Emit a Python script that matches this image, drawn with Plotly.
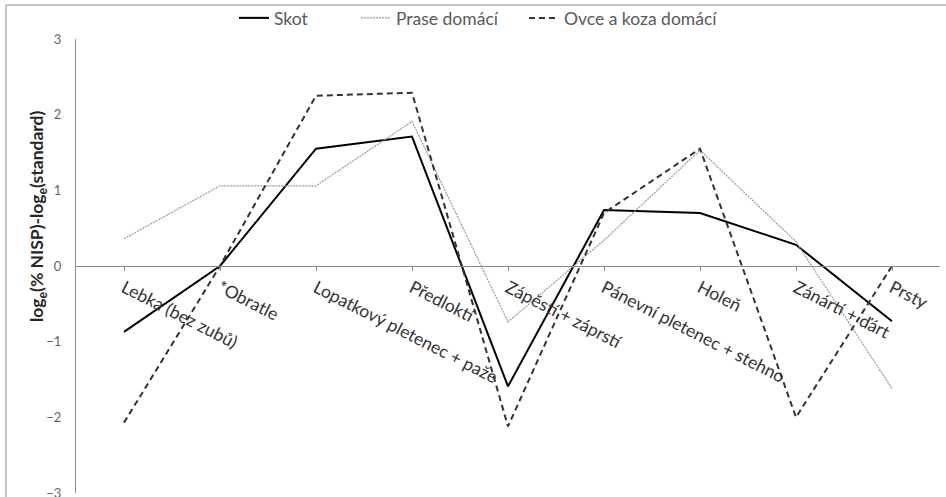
import plotly.graph_objects as go

categories = ["Lebka (bez zubů)", "*Obratle", "Lopatkový pletenec + paže", "Předloktí",
              "Zápěstí + záprstí", "Pánevní pletenec + stehno", "Holeň", "Zánártí + ďárt", "Prsty"]
skot = [-0.87, 0.0, 1.55, 1.71, -1.59, 0.74, 0.70, 0.28, -0.73]
prase = [0.36, 1.06, 1.06, 1.91, -0.74, 0.34, 1.53, 0.32, -1.62]
ovce = [-2.07, 0.0, 2.25, 2.29, -2.12, 0.70, 1.55, -2.0, 0.0]
y_title = "log<sub>e</sub>(% NISP)-log<sub>e</sub>(standard)"

W, H = 946, 497
L, R, T, B = 76, 6, 39, 4
pw, ph = W - L - R, H - T - B

def px2x(p):
    return (p - L) / pw

def py2y(p):
    return 1 - (p - T) / ph

fig = go.Figure()
fig.add_trace(go.Scatter(x=categories, y=skot, mode="lines", name="Skot", legend="legend",
                         line=dict(color="#000000", width=2)))
fig.add_trace(go.Scatter(x=categories, y=prase, mode="lines", name="Prase domácí", legend="legend2",
                         line=dict(color="#9a9a9a", width=1.2, dash="2px,1px")))
fig.add_trace(go.Scatter(x=categories, y=ovce, mode="lines", name="Ovce a koza domácí", legend="legend3",
                         line=dict(color="#333333", width=2, dash="6px,4px")))

fig.add_shape(type="rect", xref="paper", yref="paper",
              x0=px2x(6), x1=px2x(W + 20), y0=py2y(H + 20), y1=py2y(5),
              line=dict(color="#8a8a8a", width=1), layer="below")

fig.add_annotation(text=y_title, xref="paper", yref="paper", x=px2x(38), y=py2y(216),
                   xanchor="center", yanchor="middle", textangle=-90, showarrow=False,
                   font=dict(family="Lato", size=17.5, color="#262626", weight="bold"))

leg_common = dict(orientation="h", xanchor="left", yanchor="middle", y=py2y(18),
                  bgcolor="rgba(0,0,0,0)", font=dict(size=17.5, color="#595959"))
fig.update_layout(
    width=W, height=H,
    margin=dict(l=L, r=R, t=T, b=B, autoexpand=False),
    paper_bgcolor="white", plot_bgcolor="white",
    font=dict(family="Lato", size=17, color="#262626"),
    showlegend=True,
    legend=dict(x=px2x(234), **leg_common),
    legend2=dict(x=px2x(356), **leg_common),
    legend3=dict(x=px2x(524), **leg_common),
    xaxis=dict(type="category", range=[-0.5, 8.5], anchor="free", position=0.5,
               showline=True, linecolor="#8a8a8a", linewidth=1.2,
               ticks="outside", ticklen=4, tickcolor="#8a8a8a",
               tickangle=27, showgrid=False, zeroline=False,
               tickfont=dict(size=17.5, color="#333333")),
    yaxis=dict(range=[-3, 3], dtick=1, showline=True, linecolor="#8a8a8a", linewidth=1.2,
               ticks="", showgrid=False, zeroline=False, ticklabelstandoff=11,
               ticklabeloverflow="allow",
               tickfont=dict(size=13, color="#666666")),
)

fig.write_html("out.html", config={"displayModeBar": False},
               post_script="document.body.style.margin='0';")
